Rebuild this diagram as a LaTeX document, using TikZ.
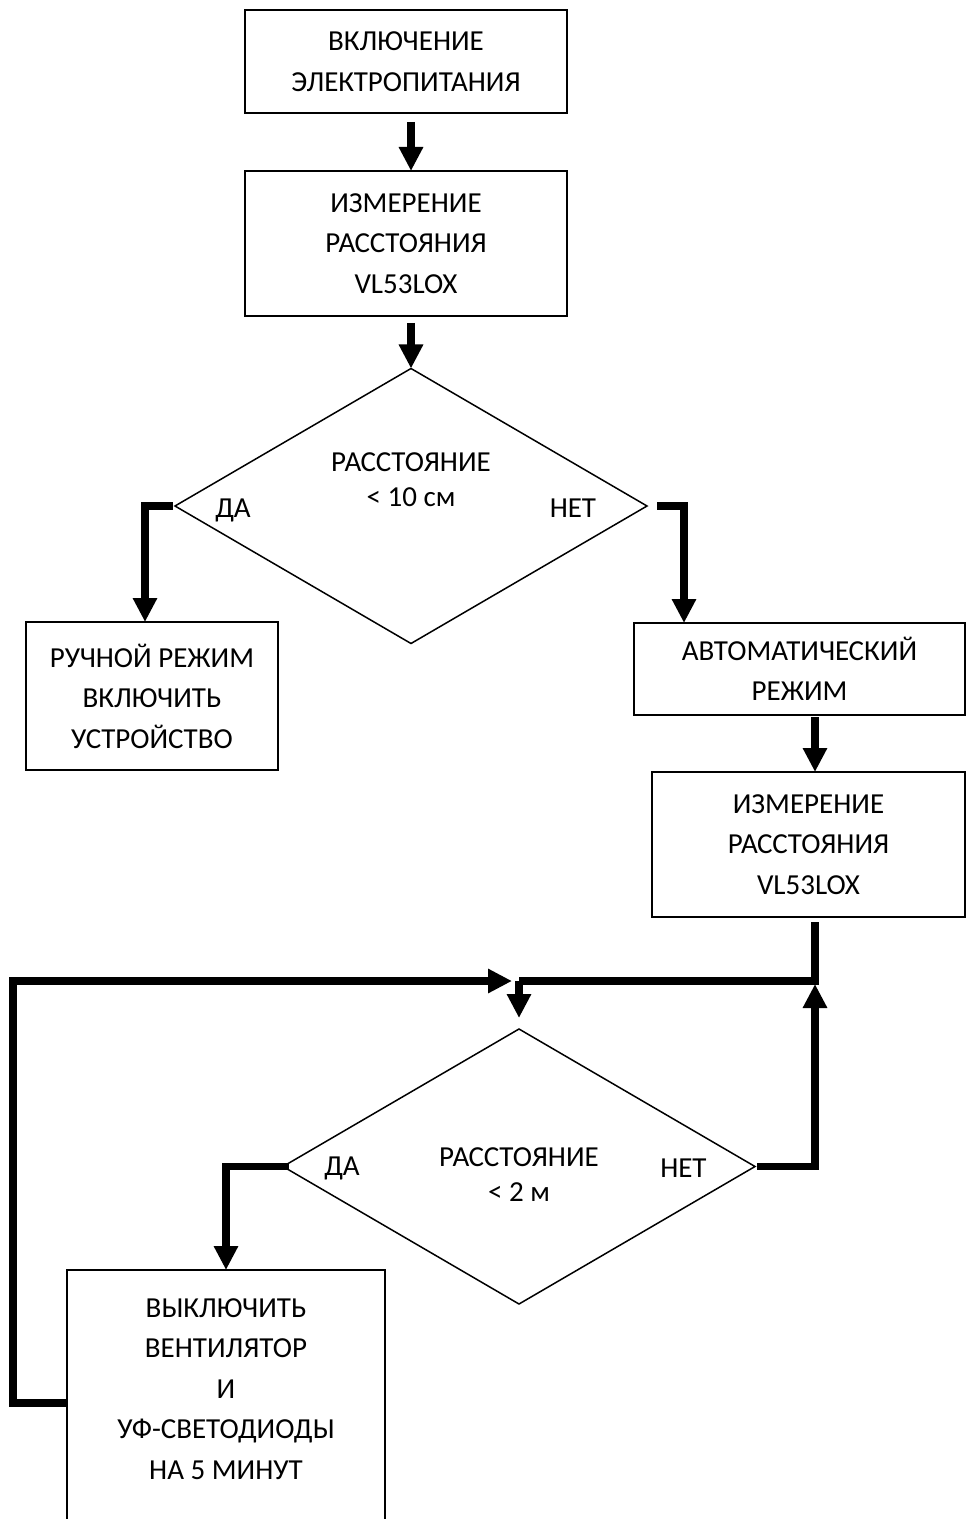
\documentclass[tikz,border=0pt]{standalone}
\usepackage{fontspec}
\setmainfont{Carlito}
\usetikzlibrary{arrows.meta,shapes.geometric,positioning}

\tikzset{
  block/.style={draw, line width=1pt, align=center, inner sep=0pt, outer sep=0pt,
    font=\fontsize{14.5pt}{20.25pt}\selectfont},
  decision/.style={diamond, draw, line width=0.75pt, inner sep=0pt, outer sep=0pt,
    minimum width=236pt, minimum height=137.5pt},
  dtext/.style={align=center, inner sep=0pt, font=\fontsize{14.5pt}{17.5pt}\selectfont},
  answer/.style={inner sep=0pt, font=\fontsize{14.5pt}{15pt}\selectfont},
  wire/.style={line width=3.75pt},
  flow/.style={wire, -{Triangle[width=11.5pt,length=12pt]}}
}

\begin{document}
\begin{tikzpicture}[x=0.5pt, y=-0.5pt]
\useasboundingbox (0,0) rectangle (966,1519);
\clip (0,0) rectangle (966,1519);
\node [block, minimum width=161pt, minimum height=51.5pt] (power) at (406,61.5) {ВКЛЮЧЕНИЕ\\ЭЛЕКТРОПИТАНИЯ};
\node [block, minimum width=161pt, minimum height=72.5pt] (meas1) at (406,243.5) {ИЗМЕРЕНИЕ\\РАССТОЯНИЯ\\VL53LOX};
\node [decision] (dist1) at (411,506) {};
\node [dtext] (dist1t) at ([yshift=13pt]dist1.center) {РАССТОЯНИЕ\\< 10 см};
\node [answer] (yes1) at ([xshift=29pt,yshift=-2pt]dist1.west) {ДА};
\node [answer] (no1) at ([xshift=-37pt,yshift=-1pt]dist1.east) {НЕТ};
\node [block, minimum width=126pt, minimum height=74pt] (manual) at (152,696) {РУЧНОЙ РЕЖИМ\\ВКЛЮЧИТЬ\\УСТРОЙСТВО};
\node [block, minimum width=165.5pt, minimum height=46pt] (auto) at (799.5,669) {АВТОМАТИЧЕСКИЙ\\РЕЖИМ};
\node [block, minimum width=156.5pt, minimum height=72.5pt] (meas2) at (808.5,844.5) {ИЗМЕРЕНИЕ\\РАССТОЯНИЯ\\VL53LOX};
\node [decision] (dist2) at (519,1166.5) {};
\node [dtext] (dist2t) at ([yshift=-4.25pt]dist2.center) {РАССТОЯНИЕ\\< 2 м};
\node [answer] (yes2) at ([xshift=29.5pt,yshift=-1pt]dist2.west) {ДА};
\node [answer] (no2) at ([xshift=-35.75pt,yshift=-1pt]dist2.east) {НЕТ};
\node [block, minimum width=159pt, minimum height=145pt] (off) at (226,1415) {ВЫКЛЮЧИТЬ\\ВЕНТИЛЯТОР\\И\\УФ-СВЕТОДИОДЫ\\НА 5 МИНУТ\\[6pt]~};

\coordinate (jr) at (815,981);
\coordinate (jl) at (dist2.north |- jr);
\coordinate (lb) at (13,1403);
\coordinate (lt) at (13,981);

\draw [flow, shorten <=4.5pt] (power.south -| dist1.north) -- (meas1.north -| dist1.north);
\draw [flow, shorten <=3.5pt] (meas1.south -| dist1.north) -- (dist1.north);
\draw [flow, shorten <=1pt] (dist1.west) -| ([xshift=-3.5pt]manual.north);
\draw [flow, shorten <=5pt] (dist1.east) -| ([xshift=-57.75pt]auto.north);
\draw [flow, shorten <=1pt] (auto.south -| jr) -- (meas2.north -| jr);
\draw [wire, shorten <=2.5pt] (meas2.south -| jr) -- (jr) -- (jl);
\draw [flow, shorten >=5.5pt] (jl) -- (dist2.north);
\draw [flow, shorten <=1pt, shorten >=1.5pt] (dist2.east) -| (jr);
\draw [flow, shorten <=-3pt] (dist2.west) -| (off.north);
\draw [flow, shorten >=3.5pt] (off.west |- lb) -- (lb) -- (lt) -- (jl);
\end{tikzpicture}
\end{document}
